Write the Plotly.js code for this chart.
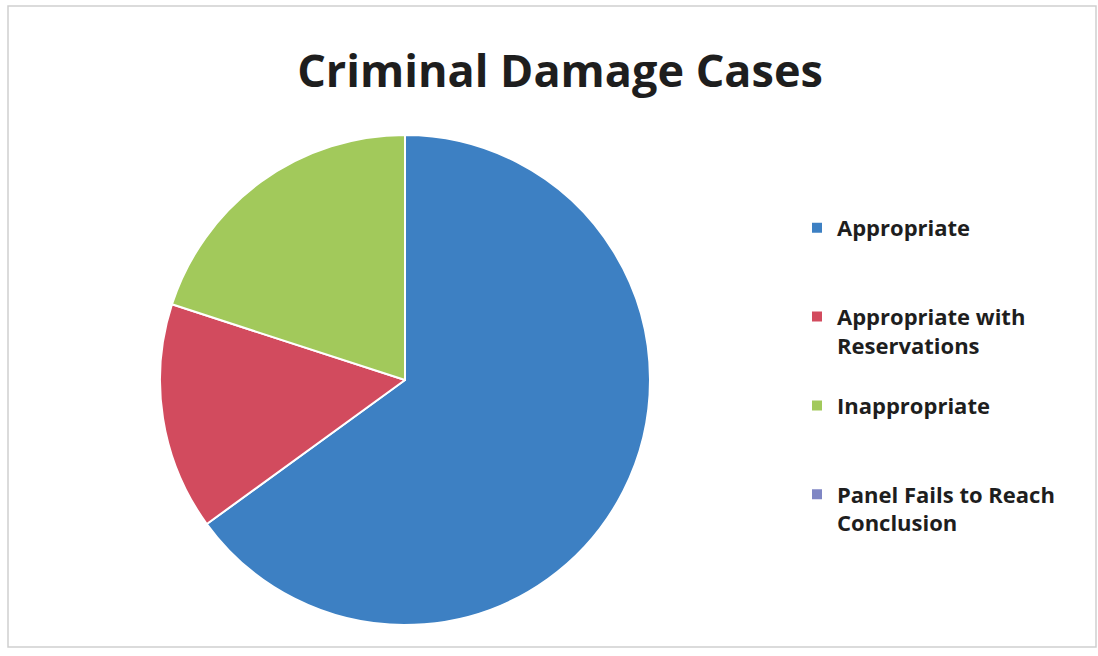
<!DOCTYPE html>
<html>
<head>
<meta charset="utf-8">
<script src="https://cdn.plot.ly/plotly-3.0.1.min.js"></script>
<style>html,body{margin:0;padding:0;background:#fff;}#chart{width:1098px;height:656px;}</style>
</head>
<body>
<div id="chart"></div>
<script>
const categories = [
  "Appropriate<br>\u00a0<br>\u00a0",
  "Appropriate with<br>Reservations<br>\u00a0",
  "Inappropriate<br>\u00a0<br>\u00a0",
  "Panel Fails to Reach<br>Conclusion<br>\u00a0"
];
const caseCounts = [13, 3, 4, 0];
const sliceColors = ["#3d80c3", "#d24b5e", "#a2c95b", "#7f86c4"];
const chartTitle = "Criminal Damage Cases";

const W = 1098, H = 656;
const cx = 405, cy = 380, r = 245;

const trace = {
  type: "pie",
  labels: categories,
  values: caseCounts,
  sort: false,
  direction: "clockwise",
  rotation: 0,
  textinfo: "none",
  hoverinfo: "none",
  marker: {colors: sliceColors, line: {color: "#ffffff", width: 2}},
  domain: {x: [(cx - r) / W, (cx + r) / W], y: [(H - cy - r) / H, (H - cy + r) / H]},
  showlegend: true
};

const layout = {
  width: W, height: H,
  margin: {l: 0, r: 0, t: 0, b: 0},
  paper_bgcolor: "#ffffff",
  title: {
    text: "<b>" + chartTitle + "</b>",
    font: {family: "Open Sans, Lato, sans-serif", size: 45, color: "#1e1e1e"},
    x: 560 / W, xanchor: "center", y: 1 - 71 / H, yanchor: "middle"
  },
  legend: {
    x: 797 / W, xanchor: "left",
    y: 1 - 207 / H, yanchor: "top",
    valign: "top",
    font: {family: "Open Sans, Lato, sans-serif", size: 22, color: "#1e1e1e", weight: "bold"},
    itemwidth: 30,
    traceorder: "normal",
    bgcolor: "rgba(0,0,0,0)"
  },
  shapes: [{
    type: "rect", xref: "paper", yref: "paper",
    x0: 8 / W, x1: 1096 / W, y0: 1 - 647 / H, y1: 1 - 6 / H,
    line: {color: "#cfcfcf", width: 1.5}, fillcolor: "rgba(0,0,0,0)"
  }]
};

Plotly.newPlot("chart", [trace], layout, {displayModeBar: false, staticPlot: true});
</script>
</body>
</html>
